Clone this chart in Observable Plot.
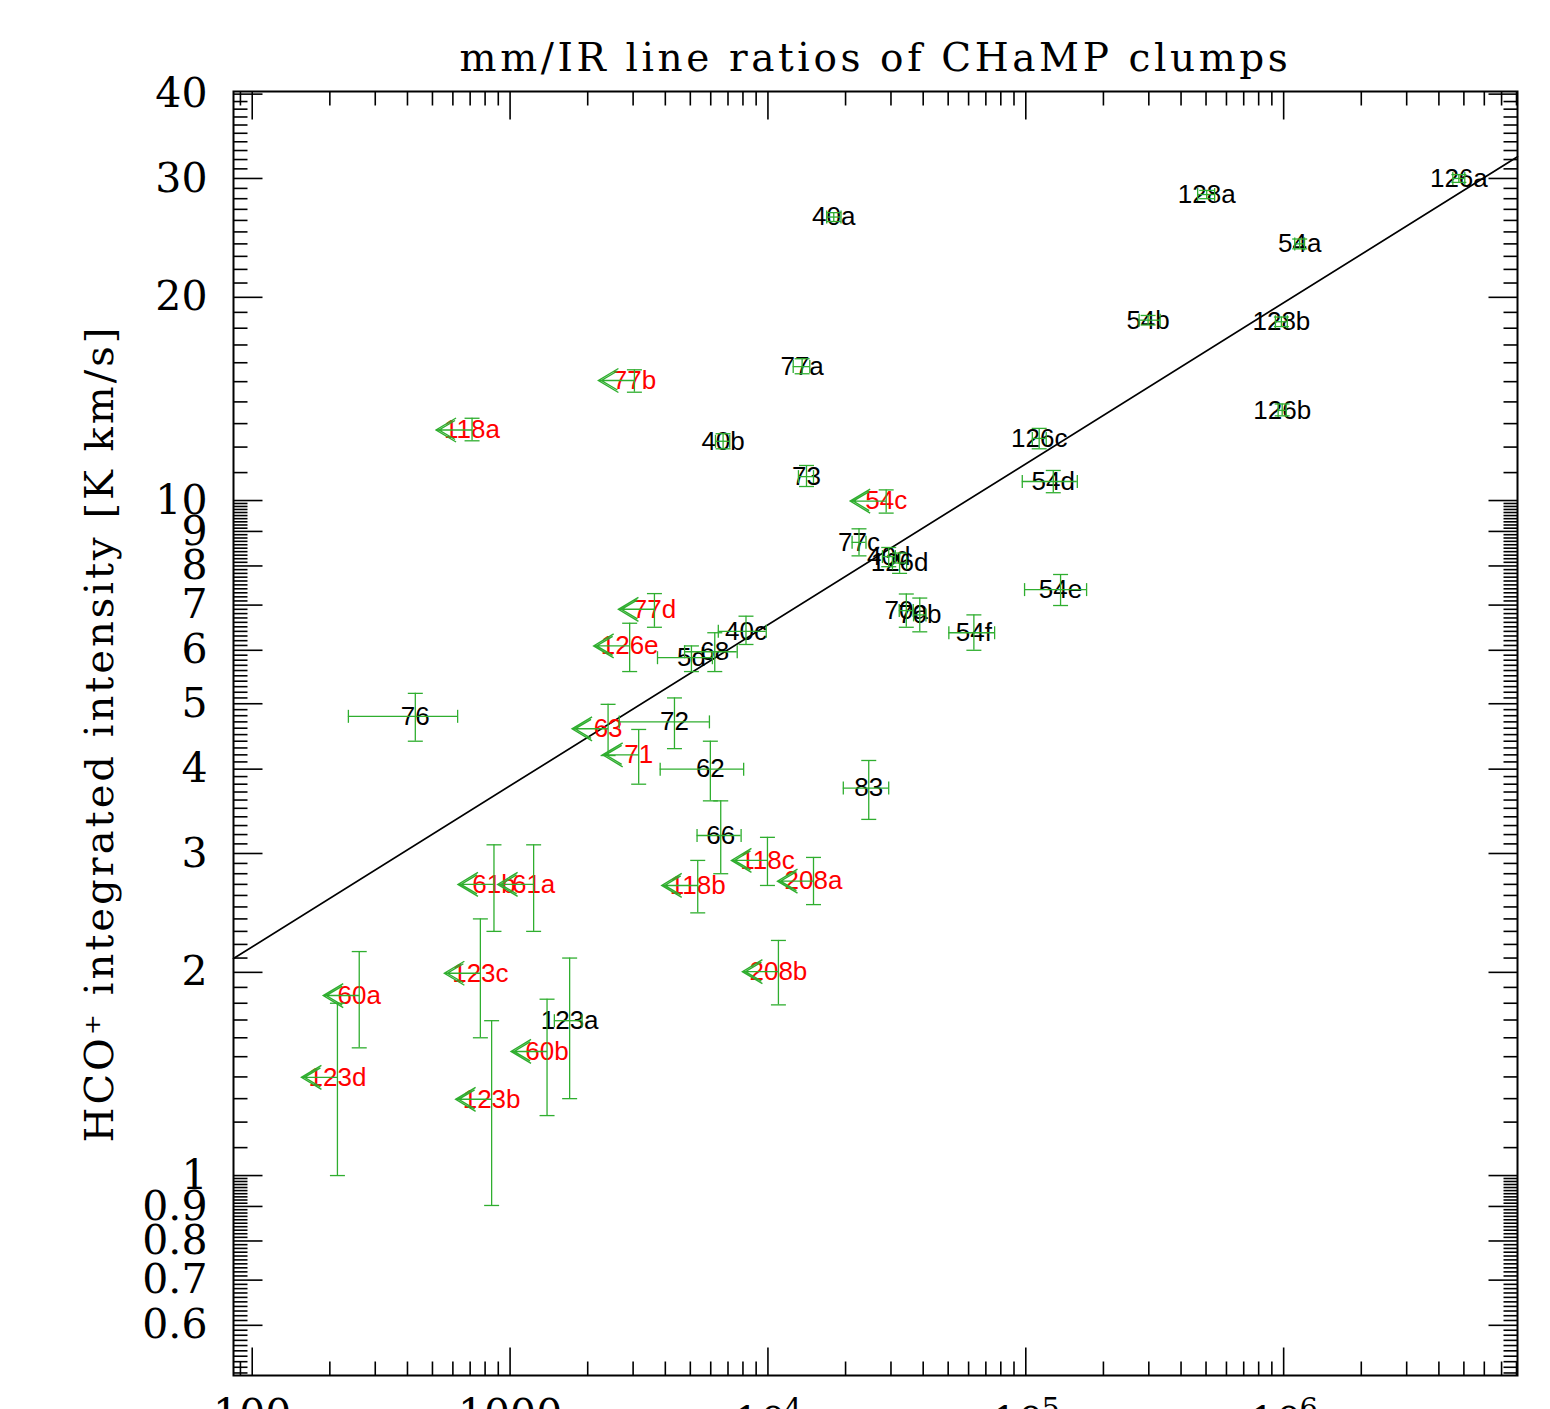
<!DOCTYPE html>
<html><head><meta charset="utf-8">
<script src="https://cdn.jsdelivr.net/npm/d3@7"></script>
<script src="https://cdn.jsdelivr.net/npm/@observablehq/plot@0.6"></script>
<style>html,body{margin:0;padding:0;background:#fff;}</style>
</head><body>
<script>
// ---------- text ----------
const titleText = "mm/IR line ratios of CHaMP clumps";
const yLabelText = "HCO\u207A integrated intensity [K km/s]";

// ---------- detections (black labels) ----------
const detNames = ["40a","128a","126a","54a","54b","128b","126b","126c","54d","54e","54f","73","77a","40b","77c","40d","126d","70a","70b","40c","68","5d","72","62","66","83","76","123a"];
const detX   = [1.80e4,5.03e5,4.78e6,1.154e6,2.98e5,9.80e5,9.87e5,1.127e5,1.278e5,1.364e5,6.29e4,1.411e4,1.357e4,6.70e3,2.255e4,2.94e4,3.24e4,3.44e4,3.88e4,8.22e3,6.22e3,5.05e3,4.34e3,5.98e3,6.56e3,2.46e4,429,1702];
const detXlo = [1.69e4,4.64e5,4.53e6,1.104e6,2.75e5,9.29e5,9.52e5,1.06e5,9.69e4,9.89e4,5.03e4,1.313e4,1.253e4,6.26e3,2.12e4,2.78e4,3.04e4,3.23e4,3.67e4,6.42e3,4.75e3,3.73e3,2.65e3,3.82e3,5.31e3,1.96e4,236,1485];
const detXhi = [1.92e4,5.40e5,5.04e6,1.205e6,3.32e5,1.033e6,1.023e6,1.20e5,1.584e5,1.721e5,7.57e4,1.502e4,1.453e4,7.11e3,2.40e4,3.12e4,3.45e4,3.66e4,4.10e4,9.85e3,7.60e3,6.09e3,5.93e3,8.05e3,7.87e3,2.94e4,626,1902];
const detY   = [26.3,28.4,30.0,24.0,18.5,18.4,13.6,12.36,10.67,7.38,6.37,10.85,15.79,12.24,8.67,8.26,8.08,6.87,6.77,6.40,5.97,5.85,4.70,4.00,3.19,3.75,4.79,1.696];
const detYlo = [25.9,28.0,29.6,23.6,18.2,18.1,13.35,11.93,10.27,6.99,6.00,10.49,15.41,11.93,8.28,7.98,7.80,6.49,6.39,6.12,5.58,5.58,4.29,3.59,2.80,3.37,4.40,1.30];
const detYhi = [26.7,28.8,30.4,24.4,18.8,18.7,13.9,12.79,11.08,7.77,6.77,11.27,16.22,12.56,9.08,8.52,8.36,7.27,7.17,6.74,6.37,6.09,5.10,4.40,3.59,4.12,5.18,2.10];

// ---------- upper limits in IR (red labels) ----------
const limNames = ["118a","77b","54c","77d","126e","63","71","118c","118b","208a","208b","61b","61a","123c","60a","123d","123b","60b"];
const limX   = [712,3035,2.874e4,3629,2909,2399,3153,9956,5342,1.502e4,1.098e4,866,1234,767,260,214,848,1391];
const limY   = [12.72,15.06,9.98,6.90,6.09,4.59,4.20,2.93,2.69,2.73,2.005,2.70,2.70,1.994,1.848,1.398,1.297,1.527];
const limYlo = [12.26,14.47,9.58,6.49,5.58,4.19,3.80,2.69,2.45,2.52,1.79,2.30,2.30,1.60,1.546,1.00,0.903,1.227];
const limYhi = [13.24,15.62,10.37,7.28,6.58,4.99,4.58,3.17,2.93,2.96,2.23,3.09,3.09,2.40,2.147,1.80,1.696,1.825];

// ---------- fit line end points ----------
const fitX = [84.6, 8.07e6];
const fitY = [2.097, 32.3];

// ---------- axes ----------
const xDomain = [84.6, 8.07e6];
const yDomain = [0.5056, 40.36];
const xPlainTicks = [100, 1000];
const xPlainLabels = ["100", "1000"];
const xPowTicks = [1e4, 1e5, 1e6];
const xPowExponents = ["4", "5", "6"];
const yMajorTicks = [0.6,0.7,0.8,0.9,1,2,3,4,5,6,7,8,9,10,20,30,40];
const yTickLabels = ["0.6","0.7","0.8","0.9","1","2","3","4","5","6","7","8","9","10","20","30","40"];

// minor ticks (axis decoration)
const yMinorTicks = [];
for (let k = 51; k < 100; k++) if (k % 10) yMinorTicks.push(k / 100);
for (let k = 11; k < 100; k++) if (k % 10) yMinorTicks.push(k / 10);
for (let k = 11; k < 40; k++) if (k % 10) yMinorTicks.push(k);
const xMinorTicks = [];
for (const dec of [10,100,1000,1e4,1e5,1e6]) for (let m = 2; m <= 9; m++) {
  const v = m * dec; if (v > xDomain[0] && v < xDomain[1]) xMinorTicks.push(v);
}

// ---------- rows ----------
const det = detNames.map((n,i)=>({name:n,x:detX[i],xlo:detXlo[i],xhi:detXhi[i],y:detY[i],ylo:detYlo[i],yhi:detYhi[i]}));
const lim = limNames.map((n,i)=>({name:n,x:limX[i],y:limY[i],ylo:limYlo[i],yhi:limYhi[i]}));
const all = det.concat(lim.map(d=>({...d,limit:true})));
const fitRows = fitX.map((x,i)=>({x, y: fitY[i]}));
const yTickRows = yMajorTicks.map((v,i)=>({v, label: yTickLabels[i]}));

// ---------- symbols ----------
const sym = f => ({draw: f});
const capH = sym(c => { c.moveTo(-7.5,0); c.lineTo(7.5,0); });
const capV = sym(c => { c.moveTo(0,-6.5); c.lineTo(0,6.5); });
const arrow = sym(c => {
  c.moveTo(0,0); c.lineTo(-36,0);
  c.moveTo(-16,-12); c.lineTo(-36,0); c.lineTo(-16,12);
  c.moveTo(-17,-9.5); c.lineTo(-33,0); c.lineTo(-17,9.5);
});
const tk = (dx,dy) => sym(c => { c.moveTo(0,0); c.lineTo(dx,dy); });

const green = "#2fae2f";
const serif = "DejaVu Serif";
const sans = "Liberation Sans, Arial, sans-serif";

const tickMarks = (vals, fixed, axis, s) => Plot.dot(vals, axis === "y"
  ? {x: vals.map(()=>fixed), y: d=>d, symbol: s, stroke: "black", strokeWidth: 1.6, fill: "none"}
  : {y: vals.map(()=>fixed), x: d=>d, symbol: s, stroke: "black", strokeWidth: 1.6, fill: "none"});

const chart = Plot.plot({
  width: 1550, height: 1409,
  marginLeft: 233, marginRight: 33, marginTop: 91, marginBottom: 34,
  style: {background: "white", overflow: "visible"},
  x: {type: "log", domain: xDomain},
  y: {type: "log", domain: yDomain, axis: null},
  marks: [
    // y tick labels (placed through the y scale)
    Plot.text(yTickRows, {y: "v", text: "label", frameAnchor: "left", dx: -26, textAnchor: "end",
      lineAnchor: "middle", fontSize: 41, fontFamily: serif, fill: "black"}),
    // x tick labels
    Plot.axisX({ticks: xPlainTicks, anchor: "bottom", tickSize: 0, tickPadding: 23, label: null,
      tickFormat: d => xPlainLabels[xPlainTicks.indexOf(d)], fontSize: 41, fontFamily: serif, fill: "black"}),
    Plot.axisX({ticks: xPowTicks, anchor: "bottom", tickSize: 0, tickPadding: 31, label: null, dx: -8,
      tickFormat: () => "10", fontSize: 41, fontFamily: serif, fill: "black"}),
    Plot.axisX({ticks: xPowTicks, anchor: "bottom", tickSize: 0, tickPadding: 23, label: null, dx: 25,
      tickFormat: d => xPowExponents[xPowTicks.indexOf(d)], fontSize: 29, fontFamily: serif, fill: "black"}),
    // inward ticks on all four sides
    tickMarks(yMajorTicks, xDomain[0], "y", tk(29,0)),
    tickMarks(yMinorTicks, xDomain[0], "y", tk(14,0)),
    tickMarks(yMajorTicks, xDomain[1], "y", tk(-29,0)),
    tickMarks(yMinorTicks, xDomain[1], "y", tk(-14,0)),
    tickMarks([100,1000,1e4,1e5,1e6], yDomain[0], "x", tk(0,-28)),
    tickMarks(xMinorTicks, yDomain[0], "x", tk(0,-14)),
    tickMarks([100,1000,1e4,1e5,1e6], yDomain[1], "x", tk(0,28)),
    tickMarks(xMinorTicks, yDomain[1], "x", tk(0,14)),
    Plot.frame({stroke: "black", strokeWidth: 2}),
    // fit line
    Plot.line(fitRows, {x: "x", y: "y", stroke: "black", strokeWidth: 1.7}),
    // labels
    Plot.text(all, {x: "x", y: "y", text: "name", fill: d => d.limit ? "#ff0000" : "black",
      fontSize: 26, fontFamily: sans, textAnchor: "middle", lineAnchor: "middle"}),
    // error bars
    Plot.ruleX(all, {x: "x", y1: "ylo", y2: "yhi", stroke: green, strokeWidth: 1.3}),
    Plot.dot(all, {x: "x", y: "ylo", symbol: capH, stroke: green, strokeWidth: 1.3, fill: "none"}),
    Plot.dot(all, {x: "x", y: "yhi", symbol: capH, stroke: green, strokeWidth: 1.3, fill: "none"}),
    Plot.ruleY(det, {y: "y", x1: "xlo", x2: "xhi", stroke: green, strokeWidth: 1.3}),
    Plot.dot(det, {x: "xlo", y: "y", symbol: capV, stroke: green, strokeWidth: 1.3, fill: "none"}),
    Plot.dot(det, {x: "xhi", y: "y", symbol: capV, stroke: green, strokeWidth: 1.3, fill: "none"}),
    // upper-limit arrows
    Plot.dot(lim, {x: "x", y: "y", symbol: arrow, stroke: green, strokeWidth: 1.4, fill: "none"}),
    // title and y label
    Plot.text([titleText], {text: d => d, frameAnchor: "top", dy: -21, lineAnchor: "bottom",
      fontSize: 39, fontFamily: serif, fill: "black"}),
    Plot.text([yLabelText], {text: d => d, frameAnchor: "left", dx: -133, rotate: -90,
      textAnchor: "middle", lineAnchor: "middle", fontSize: 40, fontFamily: serif, fill: "black"})
  ]
});
chart.querySelectorAll("text").forEach(t => {
  if (t.textContent === titleText) t.setAttribute("letter-spacing", "3.6");
  if (t.textContent === yLabelText) t.setAttribute("letter-spacing", "3.0");
});
document.body.appendChild(chart);
</script>
</body></html>
